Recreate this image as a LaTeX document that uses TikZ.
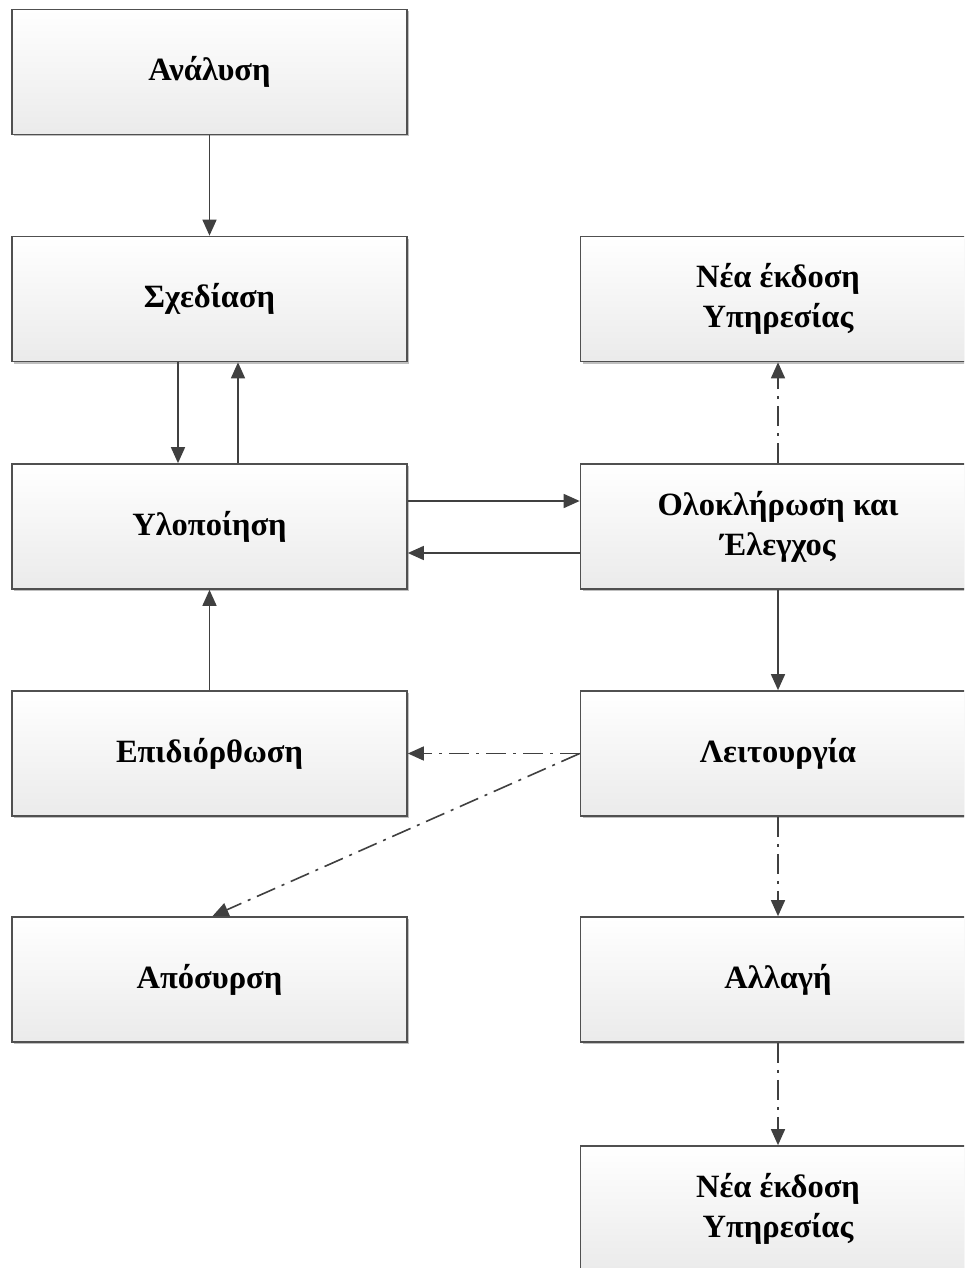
\documentclass[tikz,border=0pt]{standalone}
\usepackage{fontspec}
\setmainfont{Liberation Serif}
\usetikzlibrary{arrows.meta,shadows}
\definecolor{edge}{HTML}{404040}
\definecolor{boxline}{HTML}{505050}
\begin{document}
\begin{tikzpicture}[x=1pt,y=-1pt,
  proc/.style={draw=boxline, line width=1.7pt, minimum width=395pt, minimum height=125pt,
    top color=white, bottom color=black!8, align=center,
    font=\fontsize{32.5}{40}\selectfont\bfseries,
    drop shadow={shadow xshift=2pt, shadow yshift=-2pt, opacity=0.25, fill=black}},
  link/.style={draw=edge, line width=1.6pt, -{Triangle[length=16pt,width=14pt]}},
  dd/.style={link, dash pattern=on 20pt off 7pt on 3pt off 7pt}]
\useasboundingbox (0,0) rectangle (964,1268);
\clip (0,0) rectangle (964,1268);
\fill[white] (0,0) rectangle (964,1268);
% left column
\node[proc] (an) at (209.5,72) {Ανάλυση};
\node[proc] (sx) at (209.5,299) {Σχεδίαση};
\node[proc] (yl) at (209.5,526.5) {Υλοποίηση};
\node[proc] (ep) at (209.5,753.5) {Επιδιόρθωση};
\node[proc] (ap) at (209.5,979.5) {Απόσυρση};
% right column
\node[proc] (ne1) at (778,299) {Νέα έκδοση\\Υπηρεσίας};
\node[proc] (ol) at (778,526.5) {Ολοκλήρωση και\\Έλεγχος};
\node[proc] (le) at (778,753.5) {Λειτουργία};
\node[proc] (al) at (778,979.5) {Αλλαγή};
\node[proc] (ne2) at (778,1208.5) {Νέα έκδοση\\Υπηρεσίας};
% solid connectors
\draw[link] (an.south) -- (sx.north);
\draw[link] ([xshift=-31.5pt]sx.south) -- ([xshift=-31.5pt]yl.north);
\draw[link] ([xshift=28.5pt]yl.north) -- ([xshift=28.5pt]sx.south);
\draw[link] ([yshift=25.5pt]yl.east) -- ([yshift=25.5pt]ol.west);
\draw[link] ([yshift=-26.5pt]ol.west) -- ([yshift=-26.5pt]yl.east);
\draw[link] (ep.north) -- (yl.south);
\draw[link] (ol.south) -- (le.north);
% dash-dot connectors
\draw[dd] (ol.north) -- (ne1.south);
\draw[dd] (le.west) -- (ep.east);
\draw[dd] (le.west) -- ([xshift=3pt]ap.north);
\draw[dd] (le.south) -- (al.north);
\draw[dd] (al.south) -- (ne2.north);
\end{tikzpicture}
\end{document}
